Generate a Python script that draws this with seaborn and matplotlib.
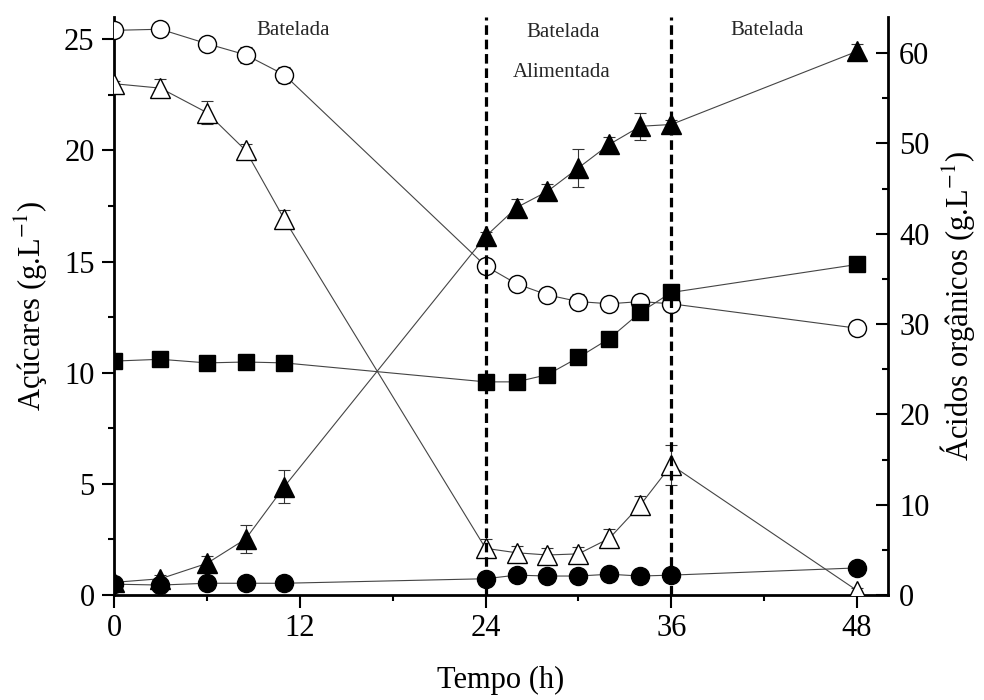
import matplotlib
matplotlib.use("Agg")
import matplotlib.pyplot as plt
from matplotlib.ticker import MultipleLocator
import seaborn as sns

# tempo de coleta (h)
tempo = [0, 3, 6, 8.5, 11, 24, 26, 28, 30, 32, 34, 36, 48]

# eixo esquerdo - açúcares (g/L), símbolos abertos
circulo_aberto = [25.4, 25.45, 24.8, 24.3, 23.4, 14.8, 14.0, 13.5, 13.2, 13.1, 13.2, 13.1, 12.0]
circulo_aberto_erro = [0.05, 0.1, 0.25, 0.35, 0.35, 0.2, 0.2, 0.25, 0.35, 0.2, 0.1, 0.25, 0.15]
triangulo_aberto = [23.0, 22.8, 21.7, 20.0, 16.9, 2.1, 1.9, 1.8, 1.85, 2.55, 4.05, 5.85, 0.2]
triangulo_aberto_erro = [0.1, 0.4, 0.5, 0.3, 0.4, 0.4, 0.3, 0.3, 0.3, 0.4, 0.4, 0.9, 0.1]

# eixo direito - ácidos orgânicos (g/L), símbolos cheios
quadrado_cheio = [25.9, 26.1, 25.7, 25.8, 25.7, 23.6, 23.6, 24.4, 26.3, 28.4, 31.3, 33.5, 36.6]
quadrado_cheio_erro = [0.3, 0.3, 0.3, 0.3, 0.3, 0.4, 0.3, 0.3, 0.3, 0.3, 0.3, 0.6, 0.3]
triangulo_cheio = [1.4, 1.8, 3.5, 6.2, 12.0, 39.7, 42.9, 44.7, 47.3, 49.9, 51.9, 52.1, 60.2]
triangulo_cheio_erro = [0.3, 0.4, 0.8, 1.5, 1.8, 0.5, 1.0, 0.8, 2.1, 0.8, 1.5, 0.5, 0.8]
circulo_cheio = [1.2, 1.1, 1.3, 1.3, 1.3, 1.8, 2.2, 2.1, 2.1, 2.3, 2.1, 2.2, 3.0]
circulo_cheio_erro = [0.1] * 13

sns.set_style("ticks")
plt.rcParams['font.family'] = ['Liberation Serif', 'DejaVu Serif']
plt.rcParams['mathtext.fontset'] = 'stix'

fig = plt.figure(figsize=(9.84, 7.0), dpi=100)
ax = fig.add_axes([0.1159, 0.15, 0.7866, 0.8257])
ax2 = ax.twinx()


def serie(eixo, y, erro, marker, face, ms):
    eixo.errorbar(tempo, y, yerr=erro, fmt='none', ecolor='#333333',
                  elinewidth=0.8, capsize=4, capthick=0.8, zorder=2)
    sns.lineplot(x=tempo, y=y, ax=eixo, color='#444444', linewidth=0.8,
                 marker=marker, markersize=ms, markerfacecolor=face,
                 markeredgecolor='black', markeredgewidth=1.0,
                 estimator=None, sort=False, zorder=3)


serie(ax, circulo_aberto, circulo_aberto_erro, 'o', 'white', 13)
serie(ax, triangulo_aberto, triangulo_aberto_erro, '^', 'white', 14)
serie(ax2, quadrado_cheio, quadrado_cheio_erro, 's', 'black', 12)
serie(ax2, triangulo_cheio, triangulo_cheio_erro, '^', 'black', 14)
serie(ax2, circulo_cheio, circulo_cheio_erro, 'o', 'black', 13)

# divisões das fases
for xv in [24, 36]:
    ax2.axvline(xv, color='black', linestyle=(0, (3.0, 1.5)), linewidth=2.3, zorder=6)

ax.set_xlim(0, 50)
ax.set_ylim(0, 26)
ax2.set_ylim(0, 64)

ax.xaxis.set_major_locator(MultipleLocator(12))
ax.xaxis.set_minor_locator(MultipleLocator(6))
ax.yaxis.set_major_locator(MultipleLocator(5))
ax.yaxis.set_minor_locator(MultipleLocator(2.5))
ax2.yaxis.set_major_locator(MultipleLocator(10))
ax2.yaxis.set_minor_locator(MultipleLocator(5))

for s in ['top', 'right']:
    ax.spines[s].set_visible(False)
ax2.spines['top'].set_visible(False)
ax2.spines['left'].set_visible(False)
ax2.spines['bottom'].set_visible(False)
for s in ['left', 'bottom']:
    ax.spines[s].set_linewidth(2)
    ax.spines[s].set_color('black')
ax2.spines['right'].set_linewidth(2)
ax2.spines['right'].set_color('black')

ax.tick_params(which='major', direction='out', length=9, width=1.5, labelsize=22, pad=5, colors='black')
ax.tick_params(which='minor', direction='out', length=4, width=1.5, colors='black')
ax2.tick_params(which='major', direction='in', length=9, width=1.5, labelsize=22, pad=8, colors='black')
ax2.tick_params(which='minor', direction='in', length=4, width=1.5, colors='black')

ax.set_xlabel('Tempo (h)', fontsize=22, labelpad=16, color='black')
ax.set_ylabel('Açúcares (g.L$^{-1}$)', fontsize=22, labelpad=10, color='black')
ax2.set_ylabel('Ácidos orgânicos (g.L$^{-1}$)', fontsize=22, labelpad=6, color='black')

ax.text(11.6, 25.4, 'Batelada', ha='center', va='center', fontsize=15)
ax.text(29.0, 25.3, 'Batelada', ha='center', va='center', fontsize=15)
ax.text(28.9, 23.5, 'Alimentada', ha='center', va='center', fontsize=15)
ax.text(42.2, 25.4, 'Batelada', ha='center', va='center', fontsize=15)

fig.savefig('out.png', dpi=100)
